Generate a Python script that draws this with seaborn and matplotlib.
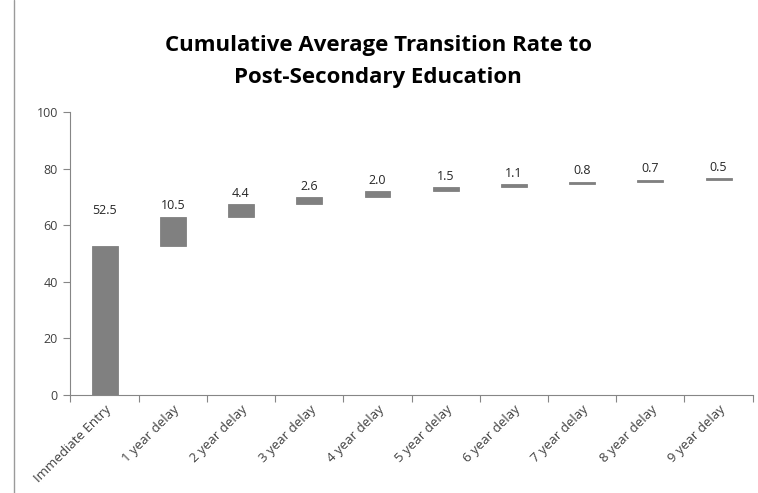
import numpy as np
import pandas as pd
import seaborn as sns
import matplotlib.pyplot as plt
from matplotlib.lines import Line2D

categories = ['Immediate Entry', '1 year delay', '2 year delay', '3 year delay', '4 year delay',
              '5 year delay', '6 year delay', '7 year delay', '8 year delay', '9 year delay']
increments = [52.5, 10.5, 4.4, 2.6, 2.0, 1.5, 1.1, 0.8, 0.7, 0.5]

df = pd.DataFrame({'stage': categories, 'rate': increments})
df['base'] = df['rate'].cumsum() - df['rate']
df['top'] = df['base'] + df['rate']

sns.set_style('white')
plt.rcParams['font.family'] = ['Open Sans', 'DejaVu Sans']

fig = plt.figure(figsize=(7.58, 4.93), dpi=100)
ax = fig.add_axes([0.093, 0.199, 0.9, 0.574])

# waterfall: grey bars floating on top of the running total
sns.barplot(data=df, x='stage', y='rate', bottom=df['base'].values, color='#808080',
            saturation=1, width=0.38, edgecolor='#808080', linewidth=0.6, ax=ax)

for i, row in df.iterrows():
    off = 21 if i == 0 else 3
    ax.annotate(f"{row['rate']:.1f}", (i, row['top']), xytext=(0, off), textcoords='offset points',
                ha='center', va='bottom', fontsize=9, color='#262626')

ax.set_xlim(-0.5, 9.5)
ax.set_ylim(0, 100)
ax.set_yticks(np.arange(0, 101, 20))
ax.set_xticks(np.arange(-0.5, 10, 1))
ax.set_xticklabels([])
ax.set_xticks(np.arange(10), minor=True)
ax.set_xticklabels(categories, minor=True, rotation=45, ha='right', rotation_mode='anchor',
                   fontsize=9.5, color='#404040')
ax.tick_params(axis='x', which='minor', length=0, pad=6)
ax.tick_params(axis='x', which='major', length=5, width=0.8, color='#868686', direction='out', bottom=True)
ax.tick_params(axis='y', length=5, width=0.8, color='#868686', direction='out', left=True,
               labelsize=9, labelcolor='#404040', pad=4)
ax.set_xlabel('')
ax.set_ylabel('')
sns.despine(ax=ax)
for s in ['left', 'bottom']:
    ax.spines[s].set_color('#868686')
    ax.spines[s].set_linewidth(0.8)

fig.suptitle('Cumulative Average Transition Rate to\nPost-Secondary Education', x=0.499, y=0.928,
             fontsize=16, fontweight='bold', color='#000000', linespacing=1.68)

# chart frame edge on the left
fig.add_artist(Line2D([0.019, 0.019], [0, 1], transform=fig.transFigure, color='#9a9a9a', lw=1))

fig.savefig('out.png', dpi=100)
